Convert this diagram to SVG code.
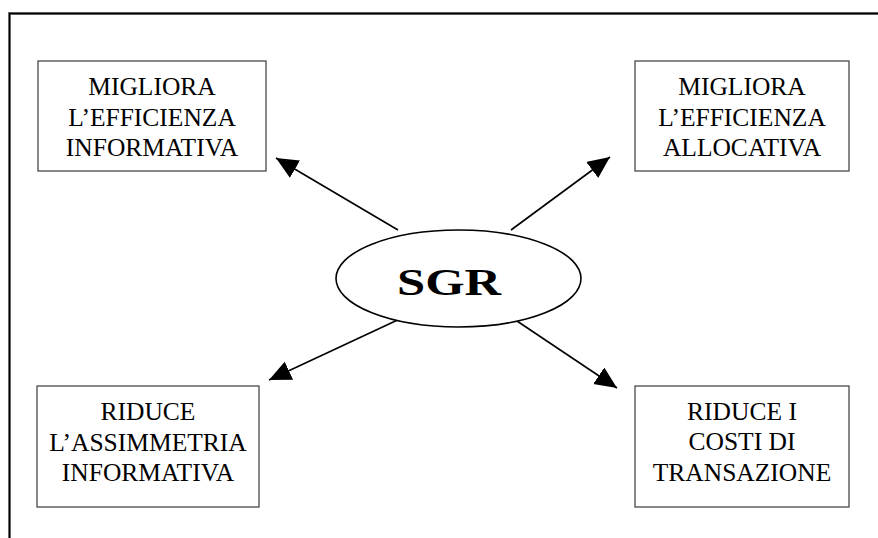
<svg xmlns="http://www.w3.org/2000/svg" width="878" height="538" viewBox="0 0 878 538">
<style>
.box{fill:#fff;stroke:#3a3a3a;stroke-width:1.2}
.lbl{font-family:"Liberation Serif","Times New Roman",serif;font-size:25.5px;fill:#000;text-anchor:middle}
.conn{stroke:#000;stroke-width:1.6;fill:none}
</style>
<defs>
<marker id="ah" markerUnits="userSpaceOnUse" markerWidth="24" markerHeight="22" refX="22" refY="10" orient="auto">
<path d="M0,0 L22,10 L0,20 Z" fill="#000"/>
</marker>
</defs>
<rect width="878" height="538" fill="#fff"/>
<g id="frame">
<path d="M9.5,538 L9.5,13.5 L878,13.5" fill="none" stroke="#7a7a7a" stroke-width="3"/>
<path d="M9.5,538 L9.5,13.5 L878,13.5" fill="none" stroke="#000" stroke-width="1.3"/>
</g>
<g id="connectors">
<line class="conn" x1="398" y1="230" x2="276" y2="158" marker-end="url(#ah)"/>
<line class="conn" x1="511" y1="230" x2="610" y2="157" marker-end="url(#ah)"/>
<line class="conn" x1="404" y1="317" x2="269" y2="380" marker-end="url(#ah)"/>
<line class="conn" x1="511" y1="317" x2="617" y2="388" marker-end="url(#ah)"/>
</g>
<g id="sgr">
<ellipse cx="458.5" cy="278.5" rx="122.5" ry="48.5" fill="#fff" stroke="#000" stroke-width="1.6"/>
<text x="449" y="295" font-family="'Liberation Serif','Times New Roman',serif" font-size="37" font-weight="bold" text-anchor="middle" textLength="104" lengthAdjust="spacingAndGlyphs">SGR</text>
</g>
<g id="box-informativa">
<rect class="box" x="38" y="61" width="228" height="110"/>
<text class="lbl" x="152" y="95">MIGLIORA</text>
<text class="lbl" x="152" y="125.5">L’EFFICIENZA</text>
<text class="lbl" x="152" y="156">INFORMATIVA</text>
</g>
<g id="box-allocativa">
<rect class="box" x="635" y="61" width="214" height="110"/>
<text class="lbl" x="742" y="95">MIGLIORA</text>
<text class="lbl" x="742" y="125.5">L’EFFICIENZA</text>
<text class="lbl" x="742" y="156">ALLOCATIVA</text>
</g>
<g id="box-assimmetria">
<rect class="box" x="37" y="386" width="222" height="121"/>
<text class="lbl" x="148" y="420">RIDUCE</text>
<text class="lbl" x="148" y="451">L’ASSIMMETRIA</text>
<text class="lbl" x="148" y="481">INFORMATIVA</text>
</g>
<g id="box-transazione">
<rect class="box" x="635" y="386" width="214" height="121"/>
<text class="lbl" x="742" y="420">RIDUCE I</text>
<text class="lbl" x="742" y="450">COSTI DI</text>
<text class="lbl" x="742" y="481">TRANSAZIONE</text>
</g>
</svg>
